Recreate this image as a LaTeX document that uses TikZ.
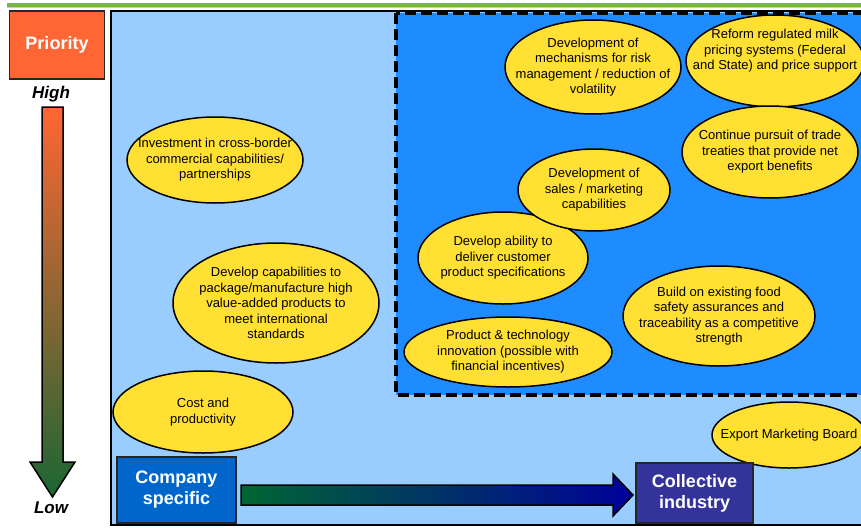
\documentclass[tikz,border=0pt]{standalone}
\usepackage{fontspec}
\setmainfont{Liberation Sans}

\definecolor{fundo}{RGB}{153,204,255}
\definecolor{azulforte}{RGB}{30,140,255}
\definecolor{amarelo}{RGB}{255,224,51}
\definecolor{laranja}{RGB}{255,102,51}
\definecolor{verdeescuro}{RGB}{26,102,51}
\definecolor{verdeseta}{RGB}{0,102,51}
\definecolor{azulseta}{RGB}{0,0,153}
\definecolor{azulempresa}{RGB}{0,102,204}
\definecolor{roxo}{RGB}{51,51,153}
\definecolor{verdetopo}{RGB}{119,182,72}

% bolha amarela: [desvio do texto] nome, centro, raio x, raio y, texto
\newcommand\bolha[6][0]{%
  \filldraw[bolhaborda] (#3) ellipse [x radius=#4, y radius=#5];
  \node[texto, yshift=#1] (#2) at (#3) {#6};}

\begin{document}
\begin{tikzpicture}[x=1pt, y=-1pt,
    bolhaborda/.style={draw=black, line width=1.5pt, fill=amarelo},
    texto/.style={align=center, inner sep=0pt, font=\fontsize{13}{15.5}\selectfont},
    caixa/.style={draw=black!85, line width=1.5pt, text=white, align=center,
                  inner sep=0pt, font=\bfseries\fontsize{18}{21}\selectfont},
    rotulo/.style={font=\bfseries\itshape\fontsize{17}{20}\selectfont}]

    \useasboundingbox (0,0) rectangle (861,527);
    \fill[white] (0,0) rectangle (861,527);
    \clip (0,0) rectangle (861,527);

    % Linha do topo
    \draw[verdetopo, line width=3.5] (7,5) -- (861,5);
    \draw[black!20, line width=1] (7,8) -- (861,8);

    % Painel e area tracejada
    \filldraw[fill=fundo, draw=black, line width=1.5] (111,11) rectangle (880,525);
    \filldraw[fill=azulforte, draw=black, line width=3.5, dash pattern=on 11pt off 5pt]
        (396,13) rectangle (880,395);

    % Escala de prioridade
    \node[caixa, fill=laranja, minimum width=95, minimum height=68] (prioridade) at (57,45) {Priority};
    \node[rotulo] (alta) at (51,94) {High};
    \node[rotulo] (baixa) at (51,508) {Low};
    \shadedraw[top color=laranja, bottom color=verdeescuro, draw=black, line width=1.5]
        (42,107) -- (63,107) -- (63,462) -- (75,462) -- (52.5,497) -- (30,462) -- (42,462) -- cycle;

    % Bolhas da esquerda
    \bolha{investimento}{215,160}{88}{43}{Investment in cross-border\\commercial capabilities/\\partnerships}
    \bolha{embalagem}{276,303}{103}{60}{Develop capabilities to\\package/manufacture high\\value-added products to\\meet international\\standards}
    \bolha{custo}{203,412}{90}{41}{Cost and\\productivity}

    % Bolhas coletivas
    \bolha{risco}{593,67}{88}{47}{Development of\\mechanisms for risk\\management / reduction of\\volatility}
    \bolha[10]{leite}{775,61}{89}{46}{Reform regulated milk\\pricing systems (Federal\\and State) and price support}
    \bolha{tratados}{770,152}{88}{46}{Continue pursuit of trade\\treaties that provide net\\export benefits}
    \bolha{cliente}{503,258}{85}{46}{Develop ability to\\deliver customer\\product specifications}
    \bolha{vendas}{594,190}{76}{41}{Development of\\sales / marketing\\capabilities}
    \bolha{seguranca}{719,316}{96}{50}{Build on existing food\\safety assurances and\\traceability as a competitive\\strength}
    \bolha{inovacao}{508,352}{104}{35}{Product \& technology\\innovation (possible with\\financial incentives)}
    \bolha{exportacao}{789,435}{77}{33}{Export Marketing Board}

    % Eixo empresa -> industria
    \node[caixa, fill=azulempresa, minimum width=119, minimum height=66] (empresa) at (176.5,490) {Company\\specific};
    \node[caixa, fill=roxo, minimum width=117, minimum height=60] (coletivo) at (694.5,493) {Collective\\industry};
    \coordinate (inicio) at (241,495);
    \coordinate (fim) at (633,495);
    \shadedraw[left color=verdeseta, right color=azulseta, draw=black, line width=1.5]
        (inicio) ++(0,-10) -- (613,485) -- (613,474) -- (fim) -- (613,516) -- (613,505) -- (241,505) -- cycle;

\end{tikzpicture}
\end{document}
